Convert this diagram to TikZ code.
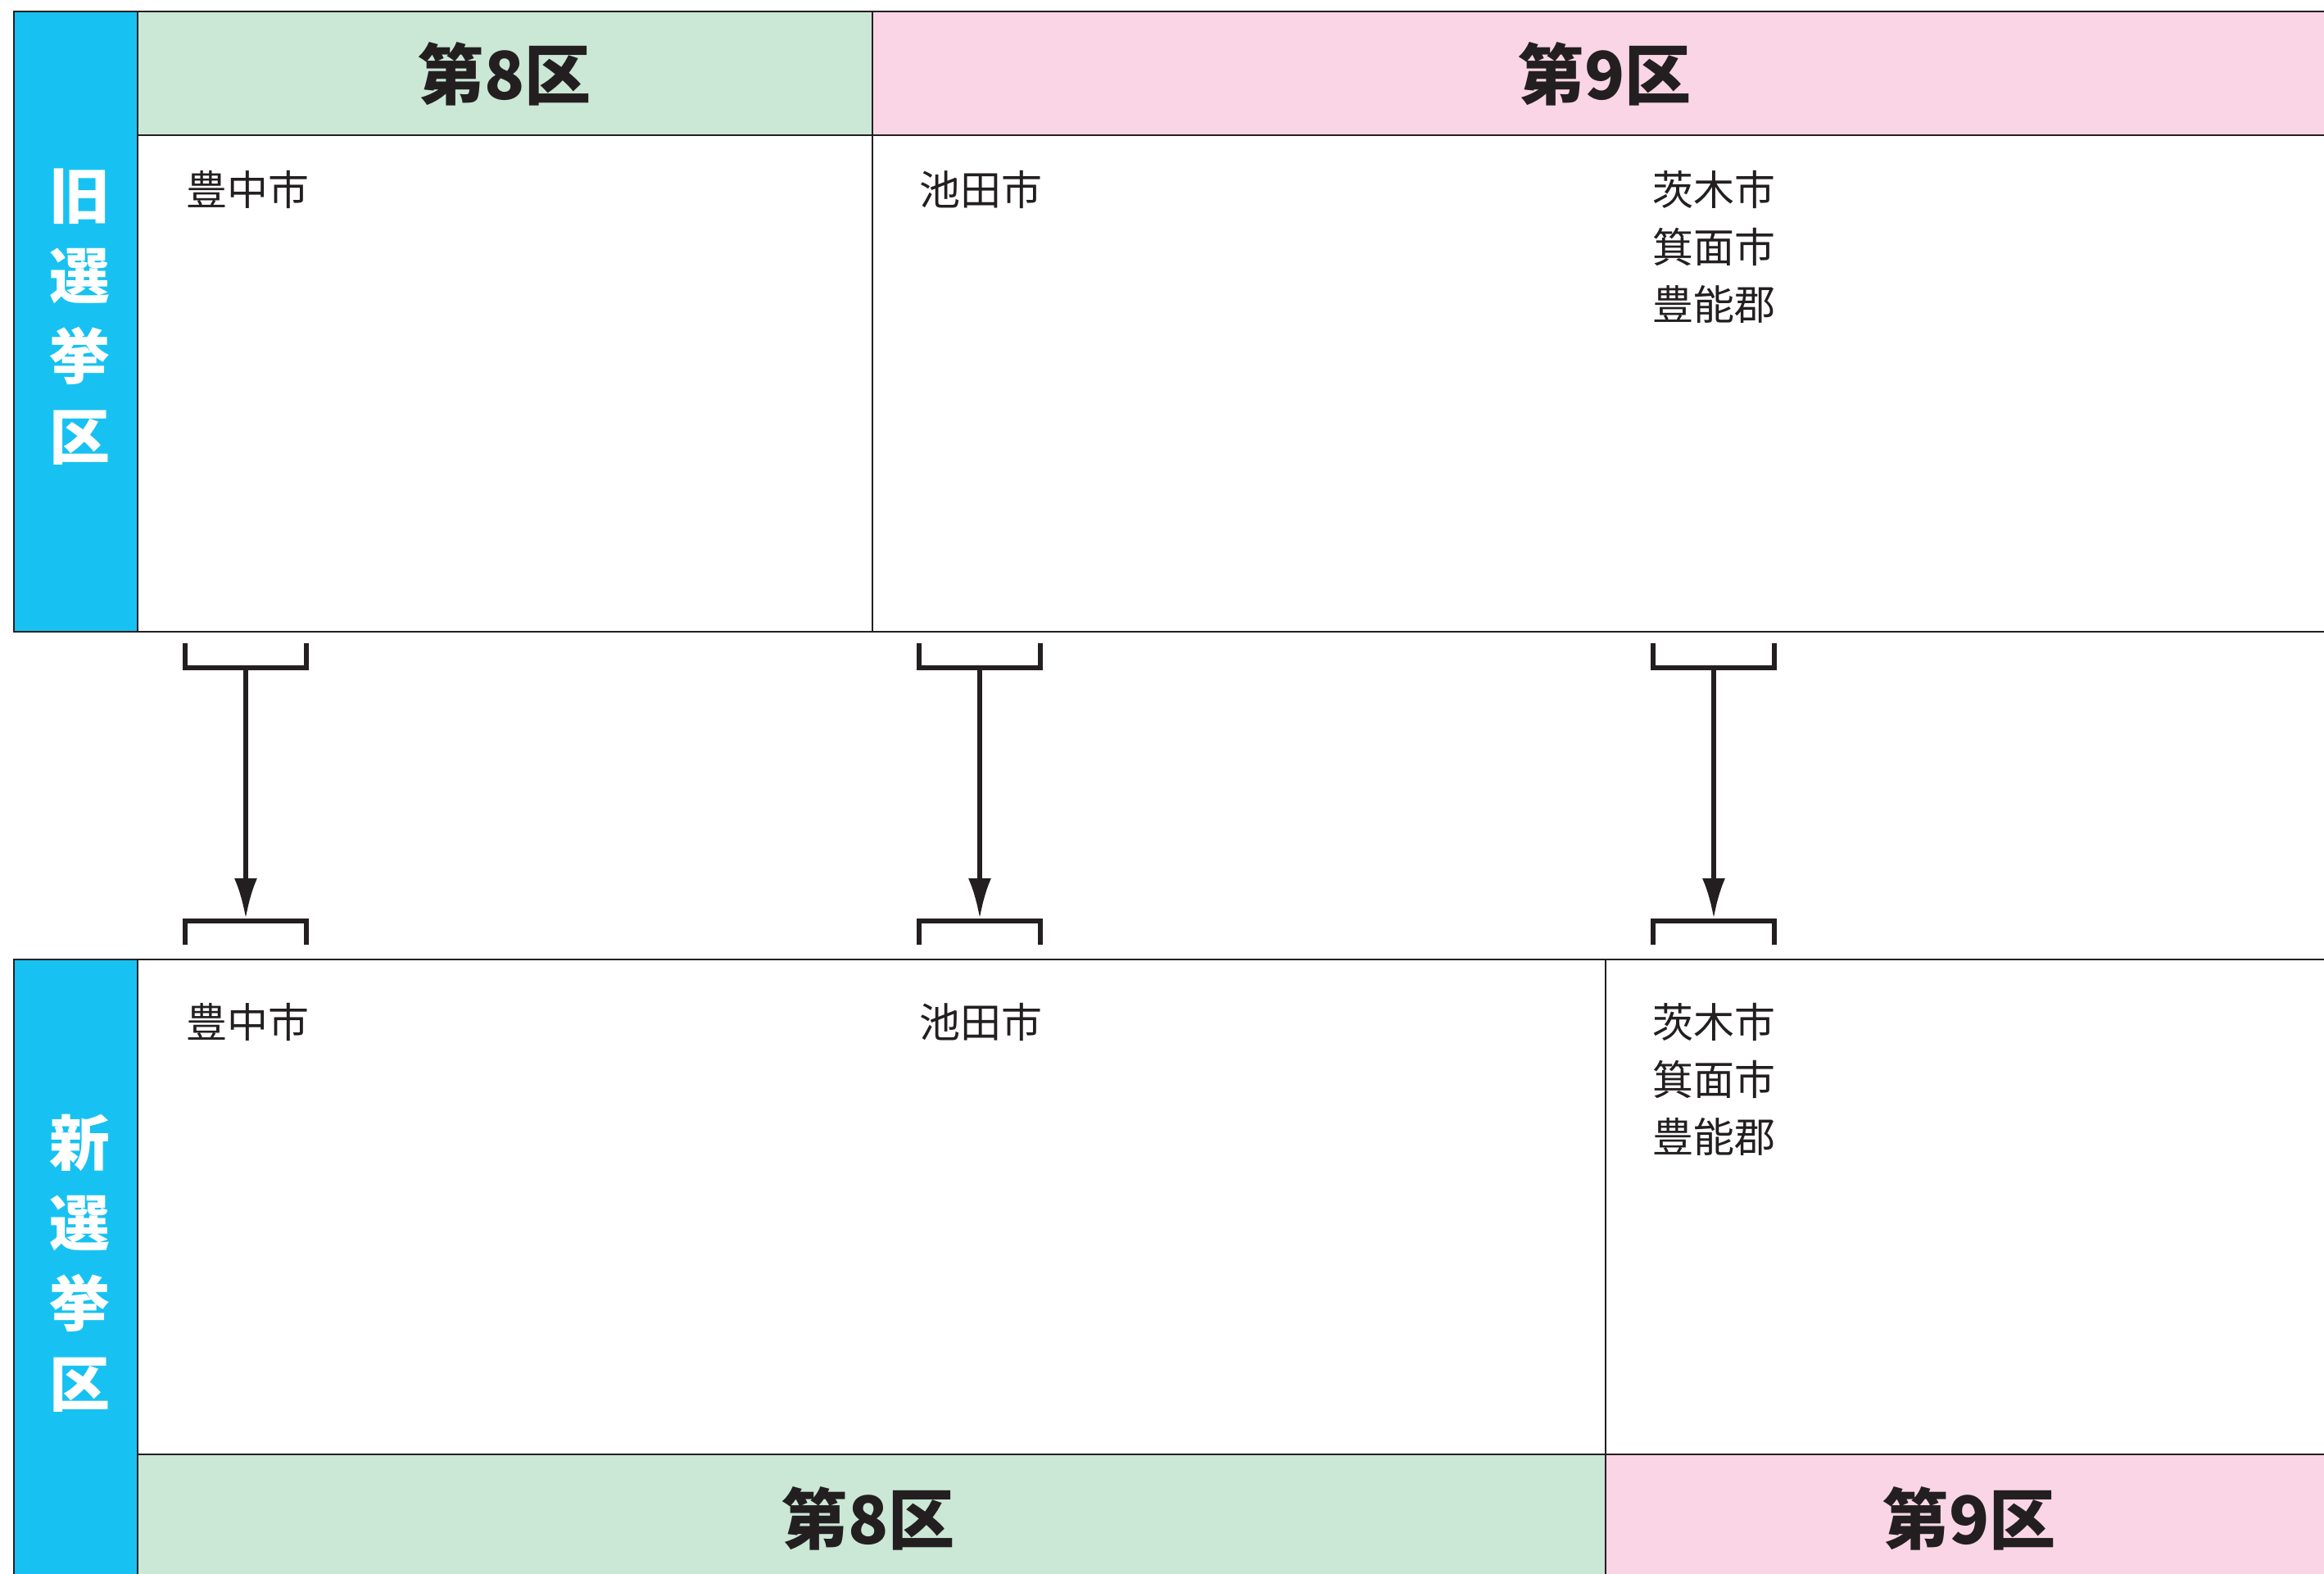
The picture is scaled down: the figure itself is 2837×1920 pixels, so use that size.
\documentclass[tikz,border=0pt]{standalone}
\usepackage{fontspec}
\newfontfamily\jp{Noto Sans CJK JP}
\usetikzlibrary{arrows.meta}
\definecolor{KuBlue}{RGB}{23,194,242}
\definecolor{KuGreen}{RGB}{203,231,214}
\definecolor{KuPink}{RGB}{249,213,230}
\definecolor{InkDark}{RGB}{35,31,32}

\begin{document}
\begin{tikzpicture}[x=0.01cm, y=-0.01cm, every node/.style={inner sep=0pt},
  cellline/.style={draw=InkDark, line width=0.8pt},
  sidelbl/.style={align=center, text=white, font=\jp\bfseries\fontsize{21}{27.9}\selectfont},
  kulbl/.style={text=InkDark, font=\jp\bfseries\fontsize{23}{24}\selectfont},
  townlbl/.style={anchor=north west, align=left, text=InkDark, font=\jp\fontsize{14.2}{19.9}\selectfont},
  brk/.style={draw=InkDark, line width=1.6pt},
  arr/.style={-{Latex[length=14pt,width=8pt]}, draw=InkDark, line width=1.6pt}]
\useasboundingbox (0,0) rectangle (2837,1920);
\clip (0,0) rectangle (2837,1920);
% old districts
\fill[KuBlue] (17,14) rectangle (168,771);
\fill[KuGreen] (168,14) rectangle (1065,165);
\fill[KuPink] (1065,14) rectangle (2853,165);
\draw[cellline] (17,14) rectangle (2853,771);
\draw[cellline] (168,14) -- (168,771);
\draw[cellline] (168,165) -- (2853,165);
\draw[cellline] (1065,14) -- (1065,771);
% new districts
\fill[KuBlue] (17,1171) rectangle (168,1930);
\fill[KuGreen] (168,1775) rectangle (1960,1930);
\fill[KuPink] (1960,1775) rectangle (2853,1930);
\draw[cellline] (17,1171) rectangle (2853,1930);
\draw[cellline] (168,1171) -- (168,1930);
\draw[cellline] (168,1775) -- (2853,1775);
\draw[cellline] (1960,1171) -- (1960,1930);
% labels
\node[sidelbl] (oldside) at (97,387) {旧\\選\\挙\\区};
\node[kulbl] (old8) at (616,90) {第8区};
\node[kulbl] (old9) at (1959,90) {第9区};
\node[townlbl] (oldA) at (227,208) {豊中市};
\node[townlbl] (oldB) at (1122,208) {池田市};
\node[townlbl] (oldC) at (2017,208) {茨木市\\箕面市\\豊能郡};
\node[sidelbl] (newside) at (97,1542) {新\\選\\挙\\区};
\node[kulbl] (new8) at (1060,1853) {第8区};
\node[kulbl] (new9) at (2404,1853) {第9区};
\node[townlbl] (newA) at (227,1224) {豊中市};
\node[townlbl] (newB) at (1122,1224) {池田市};
\node[townlbl] (newC) at (2017,1224) {茨木市\\箕面市\\豊能郡};
% brackets and arrows
\coordinate (topA) at (300,815);
\coordinate (botA) at (300,1121);
\coordinate (topB) at (1196,815);
\coordinate (botB) at (1196,1121);
\coordinate (topC) at (2092,815);
\coordinate (botC) at (2092,1121);
\draw[brk] (226,785) -- (226,815) -- (374,815) -- (374,785);
\draw[brk] (226,1153) -- (226,1124) -- (374,1124) -- (374,1153);
\draw[brk] (1122,785) -- (1122,815) -- (1270,815) -- (1270,785);
\draw[brk] (1122,1153) -- (1122,1124) -- (1270,1124) -- (1270,1153);
\draw[brk] (2018,785) -- (2018,815) -- (2166,815) -- (2166,785);
\draw[brk] (2018,1153) -- (2018,1124) -- (2166,1124) -- (2166,1153);
\draw[arr] (topA) -- (botA);
\draw[arr] (topB) -- (botB);
\draw[arr] (topC) -- (botC);
\end{tikzpicture}
\end{document}
